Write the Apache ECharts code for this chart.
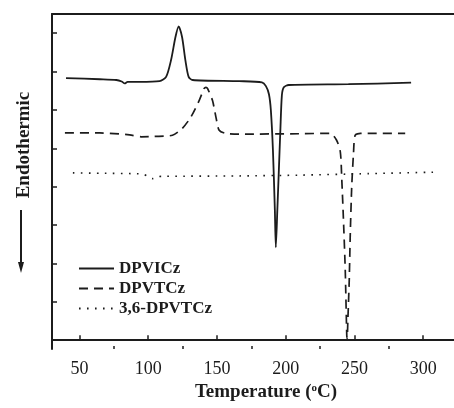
<!DOCTYPE html>
<html>
<head>
<meta charset="utf-8">
<script src="https://cdn.jsdelivr.net/npm/echarts@6/dist/echarts.min.js"></script>
<style>html,body{margin:0;padding:0;background:#fff}#c{width:454px;height:408px}</style>
</head>
<body>
<div id="c"></div>
<script>
// Temperature (°C) and heat flow (arbitrary units)
const dpvicT = [40.2, 64.8, 76.8, 80.7, 82.9, 85.0, 93.7, 108.2, 113.0, 116.6, 119.8, 122.1, 124.6, 127.0, 129.4, 132.3, 166.1, 182.7, 185.6, 187.8, 189.2, 190.7, 192.1, 192.8, 193.9, 195.0, 196.1, 197.2, 198.6, 202.2, 245.6, 291.2];
const dpvicY = [6.83, 6.80, 6.78, 6.74, 6.69, 6.73, 6.73, 6.75, 6.86, 7.30, 7.90, 8.18, 7.90, 7.30, 6.86, 6.78, 6.75, 6.72, 6.62, 6.41, 5.99, 4.95, 3.39, 2.42, 3.39, 4.43, 5.47, 6.38, 6.59, 6.65, 6.67, 6.71];

const dpvtcT = [39.4, 64.8, 86.5, 94.9, 104.6, 117.6, 124.8, 131.1, 137.1, 140.7, 142.0, 143.1, 146.7, 149.2, 151.6, 156.4, 166.1, 209.5, 232.4, 237.0, 239.7, 240.8, 242.0, 243.3, 244.4, 244.7, 245.2, 246.2, 246.9, 248.0, 249.3, 250.5, 254.3, 286.9];
const dpvtcY = [5.40, 5.40, 5.35, 5.30, 5.31, 5.34, 5.52, 5.82, 6.25, 6.56, 6.59, 6.56, 6.25, 5.82, 5.47, 5.39, 5.37, 5.38, 5.39, 5.21, 4.91, 4.17, 3.13, 1.82, 0.13, 0.05, 0.52, 1.56, 2.69, 3.99, 4.87, 5.34, 5.39, 5.39];

const dpvtc36T = [45.2, 64.8, 95.9, 99.5, 103.3, 106.7, 110.6, 166.1, 209.5, 260.1, 310.8];
const dpvtc36Y = [4.36, 4.35, 4.33, 4.27, 4.21, 4.26, 4.27, 4.28, 4.30, 4.34, 4.38];

const seriesNames = ['DPVICz', 'DPVTCz', '3,6-DPVTCz'];
const xMajorTicks = [50, 100, 150, 200, 250, 300];
const xMinorTicks = [75, 125, 175, 225, 275];
const yTicks = [0, 1, 2, 3, 4, 5, 6, 7, 8];

function pairs(xs, ys) { return xs.map((x, i) => [x, ys[i]]); }

const FONT = '"Liberation Serif", "Times New Roman", serif';
const INK = '#1c1c1c';

const chart = echarts.init(document.getElementById('c'));
chart.setOption({
  animation: false,
  backgroundColor: '#fff',
  grid: { left: 52, right: -2, top: 14, bottom: 59, containLabel: false },
  legend: {
    orient: 'vertical', left: 73, top: 255,
    itemWidth: 35, itemHeight: 10, itemGap: 3,
    itemStyle: { color: 'transparent', borderColor: 'transparent', borderWidth: 0, opacity: 0 },
    textStyle: { fontFamily: FONT, fontWeight: 'bold', fontSize: 17, color: INK, lineHeight: 17 },
    data: seriesNames
  },
  xAxis: [
    {
      type: 'value', min: 30, max: 322.4, position: 'bottom',
      axisLine: { show: true, lineStyle: { color: INK, width: 2 } },
      axisTick: { show: true, inside: true, length: 5, customValues: xMajorTicks, lineStyle: { color: INK, width: 1.5 } },
      axisLabel: { show: true, customValues: xMajorTicks, margin: 11, fontFamily: FONT, fontSize: 18, color: INK },
      splitLine: { show: false },
      name: 'Temperature ({sup|o}C)',
      nameLocation: 'middle', nameGap: 34,
      nameTextStyle: {
        fontFamily: FONT, fontWeight: 'bold', fontSize: 19, color: INK, padding: [0, 0, 0, 26],
        rich: { sup: { fontFamily: FONT, fontSize: 11, verticalAlign: 'top', color: INK } }
      }
    },
    {
      type: 'value', min: 30, max: 322.4, position: 'bottom',
      axisLine: { show: false },
      axisTick: { show: true, inside: true, length: 3, customValues: xMinorTicks, lineStyle: { color: INK, width: 1.5 } },
      axisLabel: { show: false },
      splitLine: { show: false }
    },
    {
      type: 'value', min: 30, max: 322.4, position: 'top',
      axisLine: { show: true, lineStyle: { color: INK, width: 2 } },
      axisTick: { show: false }, axisLabel: { show: false }, splitLine: { show: false }
    }
  ],
  yAxis: {
    type: 'value', min: -0.23, max: 8.5,
    axisLine: { show: true, lineStyle: { color: INK, width: 2 } },
    axisTick: { show: true, inside: true, length: 5, customValues: yTicks, lineStyle: { color: INK, width: 1.5 } },
    axisLabel: { show: false },
    splitLine: { show: false }
  },
  graphic: [
    {
      type: 'text', x: 24, y: 145, rotation: Math.PI / 2,
      style: { text: 'Endothermic', fontFamily: FONT, fontWeight: 'bold', fontSize: 19, fill: INK, align: 'center', verticalAlign: 'middle' }
    },
    { type: 'line', shape: { x1: 21, y1: 210, x2: 21, y2: 264 }, style: { stroke: INK, lineWidth: 2 } },
    { type: 'polygon', shape: { points: [[18, 262], [24, 262], [21, 273]] }, style: { fill: INK } }
  ],
  series: [
    {
      name: seriesNames[0], type: 'line', xAxisIndex: 0, symbol: 'none', smooth: 0.25,
      lineStyle: { color: INK, width: 1.8, type: 'solid' }, itemStyle: { color: INK },
      data: pairs(dpvicT, dpvicY)
    },
    {
      name: seriesNames[1], type: 'line', xAxisIndex: 0, symbol: 'none', smooth: 0.25,
      lineStyle: { color: INK, width: 1.7, type: [9, 6] }, itemStyle: { color: INK },
      data: pairs(dpvtcT, dpvtcY)
    },
    {
      name: seriesNames[2], type: 'line', xAxisIndex: 0, symbol: 'none', smooth: 0.25,
      lineStyle: { color: INK, width: 1.6, type: [1.6, 6.4] }, itemStyle: { color: INK },
      data: pairs(dpvtc36T, dpvtc36Y)
    }
  ]
});
</script>
</body>
</html>
